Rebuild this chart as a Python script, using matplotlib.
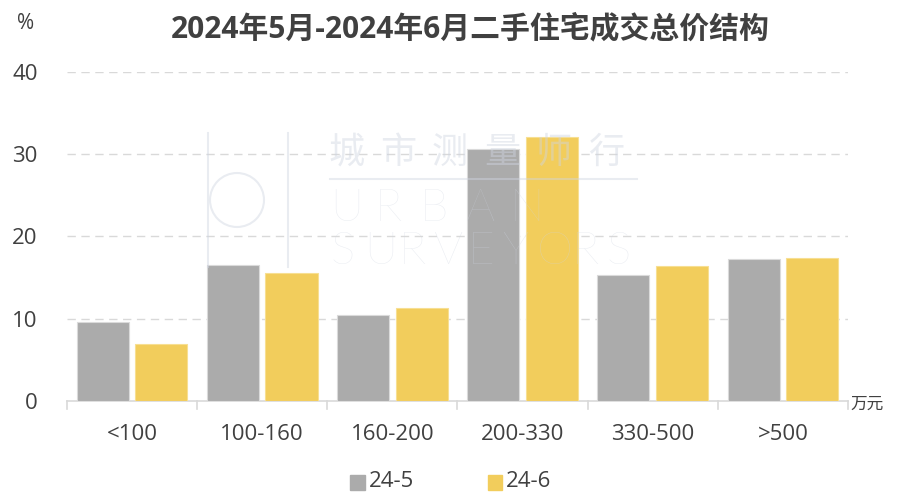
import numpy as np
import matplotlib
matplotlib.use("Agg")
import matplotlib.pyplot as plt
from matplotlib.patches import Rectangle, Circle
from matplotlib.lines import Line2D

plt.rcParams['font.family'] = ['Open Sans', 'Noto Sans CJK SC', 'DejaVu Sans']

categories = ['<100', '100-160', '160-200', '200-330', '330-500', '>500']
may_vals = [9.6, 16.5, 10.4, 30.6, 15.3, 17.2]
jun_vals = [6.9, 15.6, 11.3, 32.1, 16.4, 17.4]
series_names = ['24-5', '24-6']
yticks = [0, 10, 20, 30, 40]

grey = '#ABABAB'
yellow = '#F2CD5C'
txt = '#404040'
cjk = ['Noto Sans CJK SC', 'DejaVu Sans']

W, H = 898, 492
fig = plt.figure(figsize=(W / 100, H / 100), dpi=100)
ax = fig.add_axes([0.0746, 0.185, 0.8697, 0.669])

x = np.arange(len(categories))
w = 0.40
ax.bar(x - 0.225, may_vals, w, color=grey, edgecolor='#DADADA', linewidth=0.8, zorder=3)
ax.bar(x + 0.225, jun_vals, w, color=yellow, edgecolor='#F7DF92', linewidth=0.8, zorder=3)

ax.set_xlim(-0.5, len(categories) - 0.5)
ax.set_ylim(0, 40)
ax.set_yticks(yticks)
ax.set_yticklabels([str(v) for v in yticks], fontsize=16, color=txt)
ax.tick_params(axis='y', length=0, pad=21)
ax.set_xticks(x)
ax.set_xticklabels(categories, fontsize=16, color=txt)
ax.tick_params(axis='x', length=0, pad=16.5)

# category separators below the baseline
for b in np.arange(-0.5, len(categories), 1.0):
    ax.plot([b, b], [0, -1.0], color='#D9D9D9', lw=1.2, clip_on=False, zorder=2)

for v in yticks[1:]:
    ax.axhline(v, color='#D9D9D9', lw=1.0, ls=(0, (6, 4)), zorder=1)

for s in ['top', 'right', 'left']:
    ax.spines[s].set_visible(False)
ax.spines['bottom'].set_color('#D9D9D9')
ax.spines['bottom'].set_linewidth(1.2)

# faint watermark, letter by letter (pixel positions)
wm = dict(color='#CFD5E1', alpha=0.45, zorder=10, va='center', ha='left')
def px(xp, yp):
    return xp / W, 1 - yp / H

for i, ch in enumerate('城市测量师行'):
    fig.text(*px(328 + i * 52, 153), ch, fontsize=26, family=cjk, fontweight='light', **wm)
for i, ch in enumerate('URBAN'):
    fig.text(*px(330 + i * 45, 208), ch, fontsize=33, family='Lato', fontweight='light', **wm)
for i, ch in enumerate('SURVEYORS'):
    fig.text(*px(330 + i * 34.5, 251), ch, fontsize=33, family='Lato', fontweight='light', **wm)
lc = dict(color='#CFD5E1', alpha=0.45, lw=1.5, transform=fig.transFigure, zorder=10)
fig.add_artist(Line2D([330 / W, 637 / W], [1 - 179 / H, 1 - 179 / H], **lc))
fig.add_artist(Line2D([208 / W, 208 / W], [1 - 133 / H, 1 - 267 / H], **lc))
fig.add_artist(Line2D([288 / W, 288 / W], [1 - 133 / H, 1 - 267 / H], **lc))
fig.add_artist(Circle((237, H - 200), 27, transform=None, fill=False,
                      ec='#CFD5E1', alpha=0.45, lw=1.5, zorder=10))

fig.text(0.524, 0.94, '2024年5月-2024年6月二手住宅成交总价结构', fontsize=21.5,
         fontweight='bold', color=txt, ha='center', va='center')
fig.text(0.028, 0.953, '%', fontsize=15, color=txt, ha='center', va='center')
fig.text(0.947, 0.178, '万元', fontsize=12, family=cjk, color=txt, ha='left', va='center')

# legend
fig.add_artist(Rectangle((0.390, 0.004), 0.017, 0.031, transform=fig.transFigure,
                         color=grey))
fig.text(0.411, 0.022, series_names[0], fontsize=16, color=txt, va='center')
fig.add_artist(Rectangle((0.543, 0.004), 0.016, 0.031, transform=fig.transFigure,
                         color=yellow))
fig.text(0.563, 0.022, series_names[1], fontsize=16, color=txt, va='center')

fig.savefig('out.png', dpi=100)
